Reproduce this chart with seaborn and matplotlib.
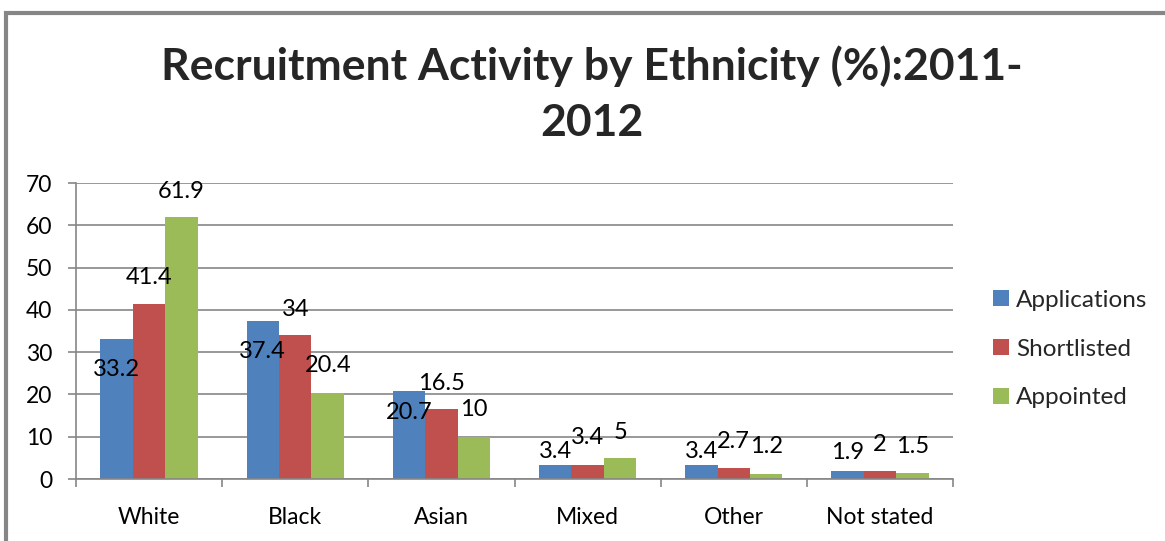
import matplotlib
matplotlib.use("Agg")
import matplotlib.pyplot as plt
from matplotlib.patches import Rectangle
from matplotlib.ticker import FixedLocator, MultipleLocator
import seaborn as sns
import pandas as pd

# Recruitment figures (%) by ethnic group
categories = ["White", "Black", "Asian", "Mixed", "Other", "Not stated"]
applications = [33.2, 37.4, 20.7, 3.4, 3.4, 1.9]
shortlisted = [41.4, 34, 16.5, 3.4, 2.7, 2]
appointed = [61.9, 20.4, 10, 5, 1.2, 1.5]
series_names = ["Applications", "Shortlisted", "Appointed"]
colors = ["#4F81BD", "#C0504D", "#9BBB59"]

# vertical placement of the value labels, in pixels from the bar top
label_shift = [
    [-31, -31, -21, 13, 13, 18],
    [26, 26, 26, 27, 26, 26],
    [26, 27, 27, 25, 27, 26],
]

rows = []
for name, vals in zip(series_names, [applications, shortlisted, appointed]):
    for cat, v in zip(categories, vals):
        rows.append({"Ethnicity": cat, "Series": name, "Value": v})
df = pd.DataFrame(rows)

sns.set_theme(style="white")
plt.rcParams["font.family"] = ["Lato", "DejaVu Sans"]

W, H = 1165, 541
fig = plt.figure(figsize=(W / 100, H / 100), dpi=100)
ax = fig.add_axes([76 / W, 1 - 479 / H, (953 - 76) / W, (479 - 183) / H])

sns.barplot(data=df, x="Ethnicity", y="Value", hue="Series", order=categories,
            hue_order=series_names, palette=colors, width=0.667, gap=0,
            saturation=1, linewidth=0, ax=ax, legend=True)

ax.set_ylim(0, 70)
ax.set_xlim(-0.5, len(categories) - 0.5)
ax.yaxis.set_major_locator(MultipleLocator(10))
ax.set_xlabel("")
ax.set_ylabel("")
ax.grid(axis="y", color="#868686", linewidth=1.2)
ax.set_axisbelow(True)
for s in ["top", "right"]:
    ax.spines[s].set_visible(False)
for s in ["left", "bottom"]:
    ax.spines[s].set_color("#868686")
    ax.spines[s].set_linewidth(1.2)

ax.tick_params(axis="y", which="major", length=6, width=1.2, color="#868686",
               labelsize=16.5, labelcolor="#000000", left=True, pad=11)
ax.tick_params(axis="x", which="major", length=0, labelsize=16.5,
               labelcolor="#000000", pad=20)
ax.xaxis.set_minor_locator(FixedLocator([i - 0.5 for i in range(len(categories) + 1)]))
ax.tick_params(axis="x", which="minor", length=6, width=1.2, color="#868686",
               bottom=True)

# value labels above / inside the bars
for si, cont in enumerate(ax.containers):
    for bi, bar in enumerate(cont):
        h = bar.get_height()
        x = bar.get_x() + bar.get_width() / 2
        txt = f"{h:g}"
        ax.annotate(txt, (x, h), xytext=(0, label_shift[si][bi] * 0.72),
                    textcoords="offset points", ha="center", va="center",
                    fontsize=17, color="#000000", annotation_clip=False)

leg = ax.legend(loc="center left", bbox_to_anchor=(993 / W, 1 - 349 / H),
                bbox_transform=fig.transFigure, frameon=False, fontsize=17.5,
                handlelength=0.65, handleheight=0.65, handletextpad=0.3,
                labelspacing=1.15, borderaxespad=0, borderpad=0)

fig.text(592 / W, 1 - 66 / H, "Recruitment Activity by Ethnicity (%):2011-",
         ha="center", va="center", fontsize=32, fontweight="bold")
fig.text(592 / W, 1 - 123 / H, "2012", ha="center", va="center",
         fontsize=32, fontweight="bold")

# chart frame
fig.patches.append(Rectangle((6 / W, -0.1), 1.2, 1 - 13 / H + 0.1,
                             transform=fig.transFigure, fill=False,
                             edgecolor="#868686", linewidth=3))

fig.savefig("out.png", dpi=100, facecolor="white")
